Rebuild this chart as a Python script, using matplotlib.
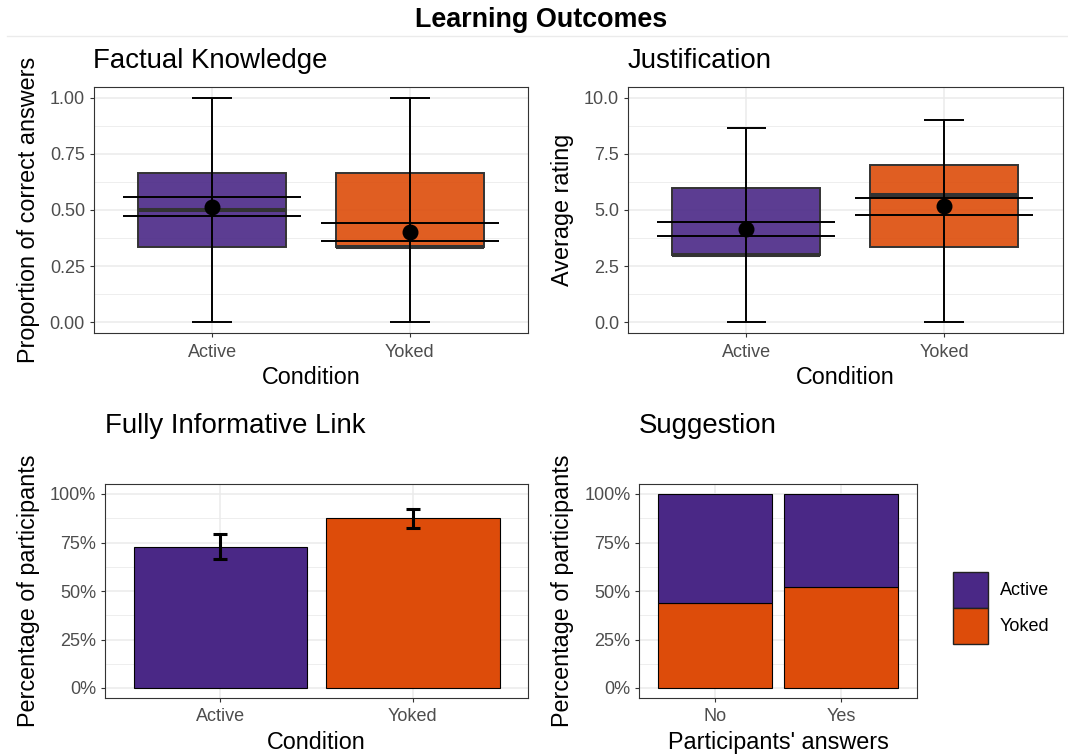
import matplotlib.pyplot as plt
from matplotlib.colors import to_rgb
from matplotlib.patches import Rectangle
from matplotlib.lines import Line2D
from matplotlib.ticker import MultipleLocator, PercentFormatter, FormatStrFormatter

plt.rcParams['font.family'] = ['Liberation Sans', 'DejaVu Sans']

conditions = ["Active", "Yoked"]
answers = ["No", "Yes"]

# Factual knowledge (proportion correct): box stats, mean and CI
fk_low = [0.0, 0.0]
fk_q1 = [0.333, 0.333]
fk_med = [0.50, 0.333]
fk_q3 = [0.667, 0.667]
fk_high = [1.0, 1.0]
fk_mean = [0.515, 0.403]
fk_ci_lo = [0.473, 0.363]
fk_ci_hi = [0.556, 0.444]

# Justification (average rating)
ju_low = [0.0, 0.0]
ju_q1 = [3.0, 3.33]
ju_med = [3.0, 5.67]
ju_q3 = [6.0, 7.0]
ju_high = [8.67, 9.0]
ju_mean = [4.15, 5.16]
ju_ci_lo = [3.82, 4.76]
ju_ci_hi = [4.47, 5.54]

# Fully informative link: share of participants with SE bars
link_share = [0.729, 0.875]
link_lo = [0.665, 0.825]
link_hi = [0.795, 0.925]

# Suggestion: condition split within each answer
sugg_yoked = [0.44, 0.52]
sugg_active = [0.56, 0.48]

PURPLE = "#4A2886"
ORANGE = "#DD4C0A"
FILLS = [PURPLE, ORANGE]
GRID = "#EBEBEB"
DARK = "#333333"
TICK_FS = 13
LABEL_FS = 16.8
TITLE_FS = 19.9

W, H = 1068, 756
fig = plt.figure(figsize=(W / 100, H / 100), dpi=100)


def add_axes_px(left, top, right, bottom):
    return fig.add_axes([left / W, 1 - bottom / H, (right - left) / W, (bottom - top) / H])


def style(ax, major, minor, ymin, ymax, labels):
    ax.set_axisbelow(True)
    ax.set_xlim(0.4, 2.6)
    ax.set_ylim(ymin, ymax)
    ax.set_xticks([1, 2])
    ax.set_xticklabels(labels)
    ax.yaxis.set_major_locator(MultipleLocator(major))
    ax.yaxis.set_minor_locator(MultipleLocator(minor))
    ax.grid(which='major', color=GRID, lw=1.1)
    ax.grid(which='minor', axis='y', color=GRID, lw=0.6)
    ax.tick_params(which='minor', length=0)
    ax.tick_params(which='major', length=2.75, width=0.8, color=DARK,
                   labelsize=TICK_FS, labelcolor='#4D4D4D', pad=3.5)
    ax.tick_params(axis='x', pad=4.8)
    for s in ax.spines.values():
        s.set_color(DARK)
        s.set_linewidth(0.8)


def labels(ax, xlab, ylab):
    ax.set_xlabel(xlab, fontsize=LABEL_FS, labelpad=4)
    ax.set_ylabel(ylab, fontsize=LABEL_FS, labelpad=7)


def boxes(ax, low, q1, med, q3, high, mean, ci_lo, ci_hi):
    pos = [1, 2]
    stats = [dict(med=med[i], q1=q1[i], q3=q3[i], whislo=low[i], whishi=high[i], fliers=[])
             for i in range(2)]
    bp = ax.bxp(stats, positions=pos, widths=0.75, patch_artist=True,
                showcaps=False, showfliers=False, manage_ticks=False,
                whiskerprops=dict(linestyle='none'),
                boxprops=dict(edgecolor=DARK, linewidth=1.4),
                medianprops=dict(color=DARK, linewidth=2.9, solid_capstyle='butt'))
    for patch, c in zip(bp['boxes'], FILLS):
        patch.set_facecolor((*to_rgb(c), 0.9))
        patch.set_zorder(2)
    for m in bp['medians']:
        m.set_zorder(2.5)
    left = [p - 0.1 for p in pos]
    right = [p + 0.1 for p in pos]
    # whisker range drawn as an error bar over the box
    ax.vlines(pos, low, high, color='black', lw=1.4, zorder=3)
    ax.hlines(low, left, right, color='black', lw=1.4, zorder=3)
    ax.hlines(high, left, right, color='black', lw=1.4, zorder=3)
    # confidence interval of the mean
    wide_l = [p - 0.45 for p in pos]
    wide_r = [p + 0.45 for p in pos]
    ax.hlines(ci_lo, wide_l, wide_r, color='black', lw=1.4, zorder=3)
    ax.hlines(ci_hi, wide_l, wide_r, color='black', lw=1.4, zorder=3)
    ax.scatter(pos, mean, s=110, color='black', zorder=4)


# Factual Knowledge
ax1 = add_axes_px(93.6, 86.7, 528.4, 333.3)
style(ax1, 0.25, 0.125, -0.05, 1.05, conditions)
ax1.yaxis.set_major_formatter(FormatStrFormatter('%.2f'))
boxes(ax1, fk_low, fk_q1, fk_med, fk_q3, fk_high, fk_mean, fk_ci_lo, fk_ci_hi)
labels(ax1, "Condition", "Proportion of correct answers")

# Justification
ax2 = add_axes_px(627.8, 86.7, 1062.6, 333.3)
style(ax2, 2.5, 1.25, -0.5, 10.5, conditions)
ax2.yaxis.set_major_formatter(FormatStrFormatter('%.1f'))
boxes(ax2, ju_low, ju_q1, ju_med, ju_q3, ju_high, ju_mean, ju_ci_lo, ju_ci_hi)
labels(ax2, "Condition", "Average rating")

# Fully Informative Link
ax3 = add_axes_px(105, 484.3, 528.4, 697.7)
style(ax3, 0.25, 0.125, -0.05, 1.05, conditions)
ax3.yaxis.set_major_formatter(PercentFormatter(xmax=1, decimals=0))
ax3.bar([1, 2], link_share, width=0.9, color=FILLS, edgecolor='black', lw=0.8, zorder=2)
ax3.errorbar([1, 2], link_share,
             yerr=[[s - lo for s, lo in zip(link_share, link_lo)],
                   [hi - s for s, hi in zip(link_share, link_hi)]],
             fmt='none', ecolor='black', elinewidth=2.2, capsize=5, capthick=2.2, zorder=3)
labels(ax3, "Condition", "Percentage of participants")

# Suggestion
ax4 = add_axes_px(639.1, 484.3, 917.1, 697.7)
style(ax4, 0.25, 0.125, -0.05, 1.05, answers)
ax4.yaxis.set_major_formatter(PercentFormatter(xmax=1, decimals=0))
ax4.bar([1, 2], sugg_yoked, width=0.9, color=ORANGE, edgecolor='black', lw=0.8, zorder=2)
ax4.bar([1, 2], sugg_active, bottom=sugg_yoked, width=0.9, color=PURPLE,
        edgecolor='black', lw=0.8, zorder=2)
labels(ax4, "Participants' answers", "Percentage of participants")

# legend keys for the condition fill
for i, (lab, c) in enumerate(zip(conditions, FILLS)):
    top = 572.2 + i * 35.9
    fig.add_artist(Rectangle((952.9 / W, 1 - (top + 35.9) / H), 35.2 / W, 35.9 / H,
                             transform=fig.transFigure, facecolor=c,
                             edgecolor='#222222', lw=1))
    fig.text(1000 / W, 1 - (top + 18) / H, lab, fontsize=TICK_FS, va='center', ha='left')

# panel titles
for x, y, t in [(93.3, 68.3, "Factual Knowledge"), (627.8, 68.3, "Justification"),
                (105, 433.3, "Fully Informative Link"), (639.1, 433.3, "Suggestion")]:
    fig.text(x / W, 1 - y / H, t, fontsize=TITLE_FS, va='baseline', ha='left')

fig.text(541 / W, 1 - 27 / H, "Learning Outcomes", fontsize=19.4, weight='bold',
         ha='center', va='baseline')
fig.add_artist(Line2D([7 / W, 1], [1 - 36 / H, 1 - 36 / H], color=GRID, lw=1,
                      transform=fig.transFigure))

fig.savefig("out.png", dpi=100)
